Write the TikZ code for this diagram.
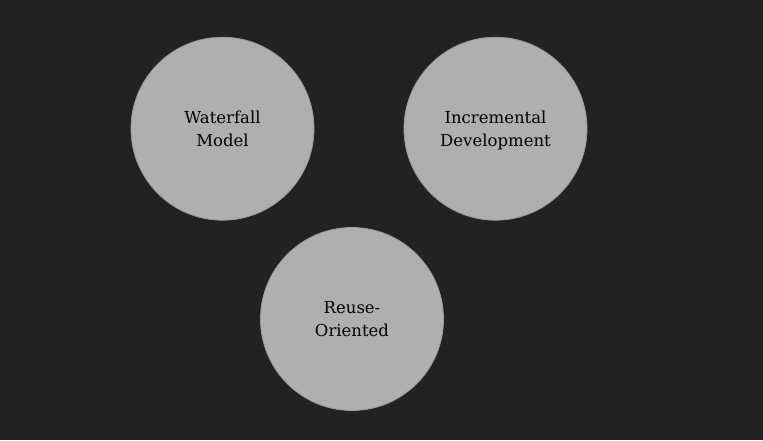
\documentclass[tikz,border=0pt]{standalone}
\usepackage{fontspec}
\setmainfont{DejaVu Serif}
\begin{document}
\begin{tikzpicture}[x=1pt,y=1pt,
  bubble/.style={circle, fill=bubblegray, draw=bubbleedge, line width=0.8pt, minimum size=183pt, inner sep=0pt},
  bubbletext/.style={align=center, inner sep=0pt, yshift=-1.6pt, font=\fontsize{16.5}{23.3}\selectfont, text=black}]
\definecolor{bgdark}{HTML}{222222}
\definecolor{bubblegray}{HTML}{AFAFAF}
\definecolor{bubbleedge}{HTML}{999999}
\fill[bgdark] (0,0) rectangle (763,440);
\useasboundingbox (0,0) rectangle (763,440);
\node[bubble] (waterfall) at (222.5,311.3) {};
\node[bubble] (incremental) at (495.5,311.3) {};
\node[bubble] (reuse) at (352,121) {};
\node[bubbletext] (waterfalltext) at (waterfall.center) {\strut Waterfall\\\strut Model};
\node[bubbletext] (incrementaltext) at (incremental.center) {\strut Incremental\\\strut Development};
\node[bubbletext] (reusetext) at (reuse.center) {\strut Reuse-\\\strut Oriented};
\end{tikzpicture}
\end{document}
